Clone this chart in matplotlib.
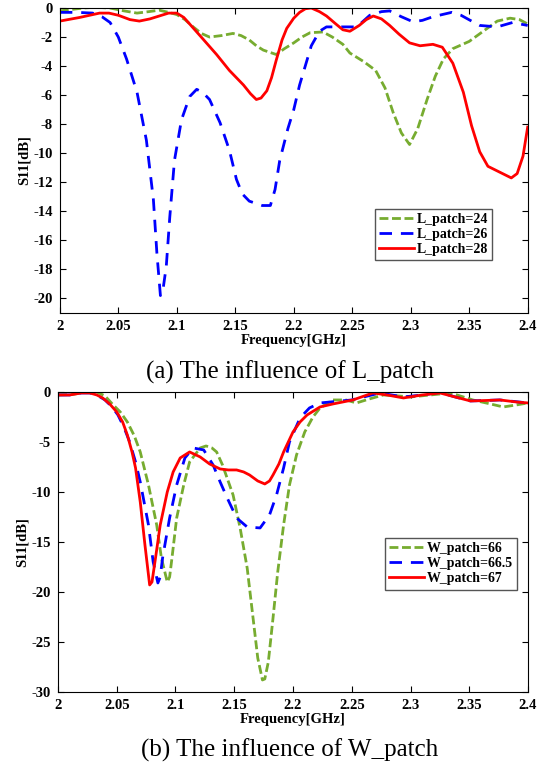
import matplotlib
matplotlib.use('Agg')
import matplotlib.pyplot as plt

plt.rcParams['font.family'] = ['Liberation Serif', 'DejaVu Serif']
plt.rcParams['font.weight'] = 'bold'
plt.rcParams['axes.unicode_minus'] = False

GREEN = '#77ac30'
BLUE = '#0000ff'
RED = '#ff0000'

# (a) L_patch sweep
freq_l24 = [2.0, 2.01, 2.02, 2.03, 2.043, 2.055, 2.066, 2.076, 2.085, 2.093, 2.1,
            2.107, 2.114, 2.121, 2.128, 2.138, 2.148, 2.155, 2.162, 2.168, 2.174,
            2.185, 2.192, 2.2, 2.207, 2.214, 2.225, 2.233, 2.242, 2.248, 2.26, 2.27,
            2.278, 2.285, 2.292, 2.299, 2.306, 2.314, 2.321, 2.328, 2.336, 2.35,
            2.362, 2.374, 2.385, 2.393, 2.4]
s11_l24 = [-0.2, -0.1, 0.0, 0.05, 0.0, -0.2, -0.35, -0.25, -0.15, -0.3, -0.45,
           -0.8, -1.3, -1.75, -2.0, -1.9, -1.75, -1.9, -2.2, -2.6, -2.9,
           -3.2, -2.8, -2.4, -2.0, -1.7, -1.65, -2.0, -2.5, -3.1, -3.7, -4.3,
           -5.5, -7.2, -8.6, -9.4, -8.3, -6.3, -4.7, -3.5, -2.8, -2.3,
           -1.6, -0.9, -0.7, -0.8, -1.1]

freq_l26 = [2.0, 2.015, 2.028, 2.036, 2.043, 2.05, 2.057, 2.066, 2.074, 2.08, 2.083,
            2.086, 2.088, 2.091, 2.094, 2.098, 2.104, 2.111, 2.117, 2.122, 2.128,
            2.137, 2.145, 2.151, 2.156, 2.162, 2.173, 2.18, 2.184, 2.188, 2.195,
            2.2, 2.205, 2.215, 2.222, 2.228, 2.24, 2.254, 2.265, 2.275, 2.282,
            2.292, 2.302, 2.31, 2.319, 2.335, 2.343, 2.352, 2.359, 2.374, 2.387, 2.4]
s11_l26 = [-0.3, -0.3, -0.35, -0.6, -1.0, -2.0, -3.5, -5.8, -9.1, -13.2, -16.9,
           -19.8, -19.5, -17.8, -14.4, -10.5, -7.7, -6.1, -5.6, -5.8, -6.3,
           -7.9, -9.8, -11.8, -12.8, -13.3, -13.6, -13.6, -12.5, -10.5, -8.3,
           -7.0, -5.3, -2.6, -1.6, -1.3, -1.3, -1.3, -0.5, -0.25, -0.2,
           -0.6, -0.95, -0.85, -0.6, -0.3, -0.5, -0.9, -1.2, -1.3, -1.0, -1.2]

freq_l28 = [2.0, 2.017, 2.034, 2.042, 2.05, 2.06, 2.068, 2.077, 2.085, 2.093, 2.1,
            2.106, 2.111, 2.122, 2.134, 2.145, 2.157, 2.163, 2.168, 2.172, 2.177,
            2.181, 2.185, 2.19, 2.194, 2.2, 2.205, 2.21, 2.215, 2.222, 2.228, 2.236,
            2.242, 2.248, 2.256, 2.262, 2.268, 2.275, 2.282, 2.29, 2.299, 2.308,
            2.319, 2.327, 2.336, 2.345, 2.352, 2.359, 2.366, 2.376, 2.386, 2.391,
            2.396, 2.4]
s11_l28 = [-0.9, -0.65, -0.35, -0.35, -0.5, -0.8, -0.9, -0.75, -0.55, -0.35, -0.35,
           -0.65, -1.1, -2.1, -3.2, -4.3, -5.3, -5.9, -6.3, -6.2, -5.7,
           -4.8, -3.6, -2.2, -1.4, -0.7, -0.3, -0.05, 0.0, -0.25, -0.55, -1.1,
           -1.5, -1.6, -1.2, -0.8, -0.55, -0.75, -1.2, -1.8, -2.4, -2.6,
           -2.5, -2.7, -3.8, -5.8, -8.1, -9.9, -10.9, -11.3, -11.7, -11.4,
           -10.2, -8.2]

# (b) W_patch sweep
freq_w66 = [2.0, 2.012, 2.022, 2.033, 2.04, 2.047, 2.053, 2.059, 2.065, 2.07, 2.077,
            2.084, 2.088, 2.093, 2.095, 2.097, 2.101, 2.107, 2.112, 2.121, 2.126,
            2.131, 2.135, 2.14, 2.149, 2.155, 2.161, 2.166, 2.17, 2.174, 2.176,
            2.179, 2.183, 2.187, 2.192, 2.197, 2.203, 2.21, 2.217, 2.223, 2.234,
            2.245, 2.254, 2.265, 2.277, 2.29, 2.3, 2.317, 2.334, 2.345, 2.353,
            2.368, 2.379, 2.39, 2.4]
s11_w66 = [-0.3, -0.25, -0.05, 0.0, -0.4, -1.3, -2.0, -3.0, -4.4, -6.0, -9.3,
           -13.3, -16.6, -19.0, -18.5, -16.6, -12.6, -9.3, -7.0, -5.6, -5.4,
           -5.6, -6.0, -7.3, -10.3, -13.6, -17.6, -22.6, -26.6, -28.8, -28.7,
           -27.0, -22.6, -18.0, -13.3, -9.3, -6.3, -4.0, -2.5, -1.6, -0.8,
           -0.8, -1.1, -0.7, -0.3, -0.4, -0.5, -0.3, -0.1, -0.5, -0.8,
           -1.2, -1.5, -1.3, -1.1]

freq_w665 = [2.0, 2.01, 2.02, 2.027, 2.033, 2.04, 2.046, 2.051, 2.056, 2.061, 2.066,
             2.07, 2.077, 2.081, 2.085, 2.087, 2.089, 2.095, 2.101, 2.108, 2.115,
             2.124, 2.132, 2.138, 2.144, 2.152, 2.161, 2.172, 2.18, 2.186, 2.192,
             2.197, 2.206, 2.214, 2.223, 2.25, 2.274, 2.294, 2.31, 2.325, 2.338,
             2.351, 2.376, 2.4]
s11_w665 = [-0.3, -0.3, -0.1, -0.1, -0.3, -0.8, -1.5, -2.3, -3.5, -5.0, -7.0,
            -9.0, -13.3, -17.0, -19.1, -18.5, -16.6, -12.6, -9.3, -6.6, -5.6,
            -5.8, -7.3, -9.0, -10.6, -12.6, -13.5, -13.6, -12.3, -10.3, -7.6,
            -5.0, -2.6, -1.6, -1.1, -0.8, -0.1, -0.5, -0.3, -0.05, -0.5,
            -0.9, -0.8, -1.1]

freq_w67 = [2.0, 2.01, 2.02, 2.027, 2.033, 2.038, 2.044, 2.05, 2.055, 2.059, 2.063,
            2.066, 2.07, 2.074, 2.078, 2.08, 2.083, 2.087, 2.093, 2.098, 2.104,
            2.112, 2.121, 2.129, 2.138, 2.145, 2.152, 2.158, 2.163, 2.17, 2.176,
            2.18, 2.183, 2.188, 2.192, 2.2, 2.206, 2.212, 2.223, 2.234, 2.251,
            2.268, 2.28, 2.294, 2.31, 2.325, 2.338, 2.351, 2.365, 2.376, 2.39, 2.4]
s11_w67 = [-0.3, -0.3, -0.1, -0.1, -0.3, -0.6, -1.2, -2.0, -3.0, -4.3, -6.0,
           -7.6, -11.0, -15.3, -19.3, -19.0, -16.6, -13.3, -10.0, -8.0, -6.6,
           -6.0, -6.5, -7.2, -7.7, -7.8, -7.8, -8.0, -8.3, -8.9, -9.2,
           -8.9, -8.3, -7.2, -6.0, -4.0, -3.0, -2.3, -1.5, -1.2, -0.8,
           -0.1, -0.3, -0.6, -0.3, -0.1, -0.5, -0.9, -0.85, -0.8, -1.0, -1.1]

x_ticks = [2, 2.05, 2.1, 2.15, 2.2, 2.25, 2.3, 2.35, 2.4]
x_tick_labels = ['2', '2.05', '2.1', '2.15', '2.2', '2.25', '2.3', '2.35', '2.4']
y_ticks_a = list(range(-20, 1, 2))
y_ticks_b = list(range(-30, 1, 5))

GREEN_DASH = (0, (3.2, 1.3))
BLUE_DASH = (0, (4.5, 3.2))


def style_axes(axs, ylim, yticks):
    axs.set_xlim(2, 2.4)
    axs.set_ylim(*ylim)
    axs.set_xticks(x_ticks)
    axs.set_xticklabels(x_tick_labels)
    axs.set_yticks(yticks)
    axs.tick_params(direction='in', top=True, right=True, labelsize=10.5,
                    length=4, width=0.8, pad=5)
    for lbl in axs.get_xticklabels() + axs.get_yticklabels():
        lbl.set_fontweight('bold')
    for sp in axs.spines.values():
        sp.set_linewidth(0.8)
    axs.set_xlabel('Frequency[GHz]', fontsize=10.5, fontweight='bold', labelpad=1)
    axs.set_ylabel('S11[dB]', fontsize=10.5, fontweight='bold', labelpad=2)


def add_legend(axs, left_px, top_px):
    axs.legend(loc='upper left', bbox_to_anchor=(left_px / 539, 1 - top_px / 763),
               bbox_transform=fig.transFigure, fancybox=False, edgecolor='#555555',
               framealpha=1, prop={'size': 10, 'weight': 'bold'},
               handlelength=2.5, handletextpad=0.2, borderpad=0.3, labelspacing=0.15,
               borderaxespad=0)


fig = plt.figure(figsize=(5.39, 7.63), dpi=100)
ax_a = fig.add_axes([0.111, 0.5898, 0.868, 0.3997])
ax_b = fig.add_axes([0.1076, 0.0931, 0.872, 0.3932])

ax_a.plot(freq_l24, s11_l24, color=GREEN, lw=2, linestyle=GREEN_DASH, label='L_patch=24')
ax_a.plot(freq_l26, s11_l26, color=BLUE, lw=2, linestyle=BLUE_DASH, label='L_patch=26')
ax_a.plot(freq_l28, s11_l28, color=RED, lw=2, label='L_patch=28')
style_axes(ax_a, (-21, 0), y_ticks_a)
add_legend(ax_a, 375, 209)

ax_b.plot(freq_w66, s11_w66, color=GREEN, lw=2, linestyle=GREEN_DASH, label='W_patch=66')
ax_b.plot(freq_w665, s11_w665, color=BLUE, lw=2, linestyle=BLUE_DASH, label='W_patch=66.5')
ax_b.plot(freq_w67, s11_w67, color=RED, lw=2, label='W_patch=67')
style_axes(ax_b, (-30, 0), y_ticks_b)
add_legend(ax_b, 385, 538)

fig.text(290 / 539, 1 - 372 / 763, '(a) The influence of L_patch',
         ha='center', va='center', fontsize=18, fontweight='normal')
fig.text(290 / 539, 1 - 750 / 763, '(b) The influence of W_patch',
         ha='center', va='center', fontsize=18, fontweight='normal')

fig.savefig('out.png', dpi=100)
plt.close(fig)
